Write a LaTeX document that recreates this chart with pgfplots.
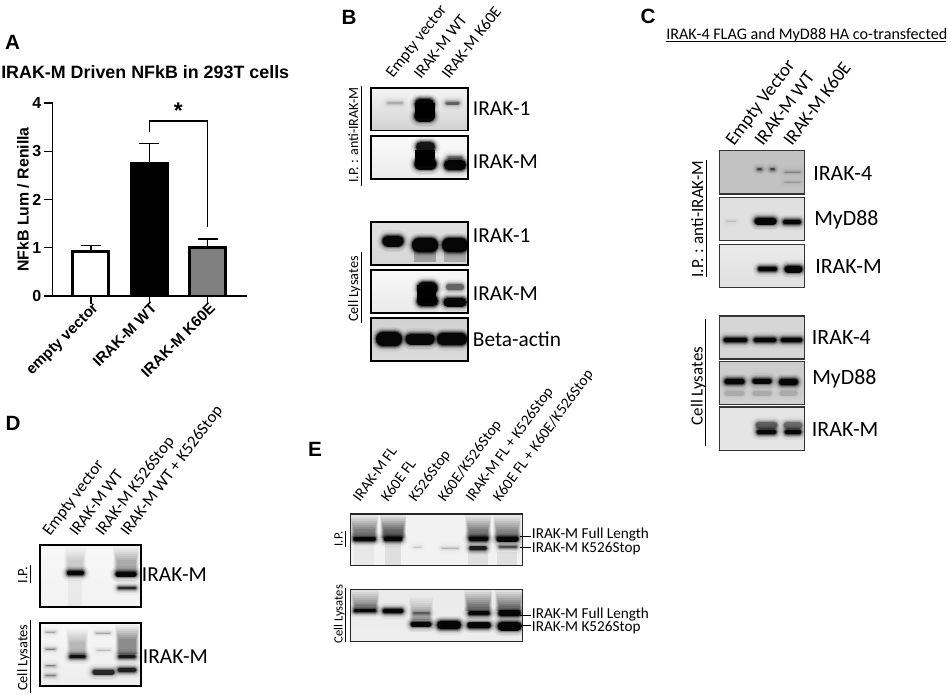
\documentclass[border=0pt]{standalone}
\usepackage{fontspec}
\setmainfont{Liberation Sans}
\newfontfamily\cb{Carlito}
\usepackage{pgfplots}
\pgfplotsset{compat=1.18}

% one band = a few stacked strokes, coordinates are picture pixels
\def\frw{1.2pt}\def\frc{black}
\pgfplotsset{
  bl/.style={black,no markers,line cap=round,forget plot},
  blotax/.style={
    scale only axis,ticks=none,y dir=reverse,axis on top,
    anchor=north west,
    axis line style={line width=\frw,\frc},
  },
}
\newcommand{\layer}[5]{%
  \pgfmathsetmacro\lw{(#4)*0.75}\pgfmathsetmacro\op{#5}%
  \edef\tmp{\noexpand\addplot[bl,opacity=\op,line width=\lw pt] coordinates {(#1,#3)(#2,#3)};}\tmp}
\newcommand{\band}[5]{%
  \layer{#1}{#2}{#3}{#4+11}{#5*0.05}%
  \layer{#1}{#2}{#3}{#4+8}{#5*0.08}%
  \layer{#1}{#2}{#3}{#4+5.5}{#5*0.14}%
  \layer{#1}{#2}{#3}{#4+3.5}{#5*0.25}%
  \layer{#1}{#2}{#3}{#4+1.5}{#5*0.45}%
  \layer{#1}{#2}{#3}{#4}{#5*0.9}}
% soft vertical smear in a lane, fades towards y1: x, y1, y2, width, strength
\newcommand{\vlayer}[5]{%
  \pgfmathsetmacro\lw{(#4)*0.75}\pgfmathsetmacro\op{#5}%
  \pgfmathsetmacro\ya{#2}%
  \edef\tmp{\noexpand\addplot[bl,line cap=butt,opacity=\op,line width=\lw pt] coordinates {(#1,\ya)(#1,#3)};}\tmp}
\newcommand{\smear}[5]{%
  \vlayer{#1}{#2}{#3}{#4+4}{#5*0.07}%
  \vlayer{#1}{#2+2}{#3}{#4+3}{#5*0.08}%
  \vlayer{#1}{#2+4}{#3}{#4+2}{#5*0.09}%
  \vlayer{#1}{#2+6}{#3}{#4+1}{#5*0.1}%
  \vlayer{#1}{#2+8}{#3}{#4}{#5*0.11}%
  \vlayer{#1}{#2+10}{#3}{#4-1}{#5*0.12}%
  \vlayer{#1}{#2+12}{#3}{#4-2}{#5*0.14}%
  \vlayer{#1}{#2+14}{#3}{#4-3}{#5*0.16}}
% x0 y0 x1 y1 top-colour bottom-colour body
\newcommand{\blot}[7]{%
  \pgfmathsetmacro\bw{(#3-#1)*0.75}\pgfmathsetmacro\bh{(#4-#2)*0.75}%
  \pgfmathsetmacro\ax{#1*0.75}\pgfmathsetmacro\ay{-#2*0.75}%
  \begin{axis}[blotax,at={(\ax pt,\ay pt)},width=\bw pt,height=\bh pt,
    xmin=#1,xmax=#3,ymin=#2,ymax=#4,
    axis background/.style={top color=#5,bottom color=#6}]
  #7
  \end{axis}}
\def\rotang{52}
\newcommand{\lab}[4]{\node[anchor=base west,inner sep=0,font=\cb\fontsize{#1}{#1}\selectfont] at (#2,#3) {#4};}
\newcommand{\rot}[4]{\node[anchor=base west,inner sep=0,rotate=\rotang,font=\cb\fontsize{#1}{#1}\selectfont] at (#2,#3) {#4};}
\newcommand{\side}[4]{\node[anchor=base,inner sep=0,rotate=90,font=\cb\fontsize{#1}{#1}\selectfont] at (#2,#3) {#4};}
\newcommand{\letter}[3]{\node[inner sep=0,font=\bfseries\fontsize{15.5}{16}\selectfont] at (#1,#2) {#3};}

\begin{document}
\begin{tikzpicture}[x=0.75pt,y=-0.75pt]
\path[use as bounding box] (0,0) rectangle (948,694);

% --- A: bar chart
\letter{12.5}{42}{A}
\node[anchor=base west,inner sep=0,font=\bfseries\fontsize{13.4}{14}\selectfont] at (1,78) {IRAK-M Driven NFkB in 293T cells};
\begin{axis}[
  at={(39.5pt,-222pt)},anchor=south west,scale only axis,
  width=145.7pt,height=144.8pt,
  xmin=-0.657,xmax=2.676,ymin=0,ymax=4,
  axis lines=left,axis line style={-,line width=1pt},
  tick style={black,line width=1pt},tick align=outside,major tick length=6.3pt,
  xtick={0,1,2},xticklabels={empty vector,IRAK-M WT,IRAK-M K60E},
  ytick={0,1,2,3,4},
  /pgf/number format/assume math mode=true,
  xticklabel style={rotate=45,anchor=north east,font=\bfseries\fontsize{11.4}{12}\selectfont,inner sep=1pt,yshift=2pt,xshift=3pt},
  yticklabel style={font=\bfseries\fontsize{12}{12}\selectfont,inner sep=2pt},
  ylabel={NFkB Lum / Renilla},
  ylabel style={font=\bfseries\fontsize{11.9}{12}\selectfont,yshift=-3pt},
  ybar,bar shift=0pt,bar width=27pt,clip=false,
]
\addplot[fill=white,draw=black,line width=2.2pt,
  error bars/.cd,y dir=plus,y explicit,error bar style={line width=0.9pt,black},
  error mark options={rotate=90,mark size=7.5pt,line width=0.9pt,black}]
  coordinates {(0,0.925) +- (0,0.12)};
\addplot[fill=black,draw=black,line width=2.2pt,
  error bars/.cd,y dir=plus,y explicit,error bar style={line width=0.9pt,black},
  error mark options={rotate=90,mark size=7.5pt,line width=0.9pt,black}]
  coordinates {(1,2.745) +- (0,0.41)};
\addplot[fill=black!50,draw=black,line width=2.2pt,
  error bars/.cd,y dir=plus,y explicit,error bar style={line width=0.9pt,black},
  error mark options={rotate=90,mark size=7.5pt,line width=0.9pt,black}]
  coordinates {(2,1.01) +- (0,0.17)};
\addplot[sharp plot,no markers,black,line width=1.1pt] coordinates {(1,3.39)(1,3.63)(2,3.63)(2,1.43)};
\node[font=\bfseries\fontsize{17}{17}\selectfont] at (axis cs:1.5,3.84) {*};
\end{axis}

% --- B
\letter{349}{17}{B}
\rot{12.2}{393}{79}{Empty vector}
\rot{12.2}{421}{80}{IRAK-M WT}
\rot{12.2}{449}{80}{IRAK-M K60E}
\blot{370.7}{87.7}{468}{130.3}{black!4}{black!18}{
  \band{388}{402}{103}{2}{0.15}
  \vlayer{424.5}{103}{118}{20}{1}
  \band{420}{429}{104}{10}{1}
  \band{420}{429}{116}{11}{1}
  \band{447}{458}{103}{3}{0.4}
}
\blot{370.7}{136}{468}{179}{black!2}{black!8}{
  \vlayer{424.5}{150}{166}{20}{1}
  \band{421}{430}{147}{10}{0.85}
  \band{420}{431}{164}{11}{1}
  \band{449}{461}{165}{10}{1}
  \band{449}{461}{157}{3}{0.3}
}
\blot{370.7}{221.7}{468}{264.7}{black!12}{black!16}{
  \band{388}{398}{241}{11}{1}
  \band{419}{431}{245}{14}{1}
  \vlayer{425}{250}{262}{22}{0.25}
  \band{449}{461}{245}{14}{1}
  \vlayer{455}{250}{262}{22}{0.2}
}
\blot{370.7}{270}{468}{312.7}{black!3}{black!8}{
  \vlayer{426.5}{285}{303}{19}{1}
  \band{424}{431}{288}{13}{1}
  \band{422}{433}{301}{10}{1}
  \band{449}{461}{287}{6}{0.4}
  \band{448}{462}{302}{9}{1}
}
\blot{370.7}{317.7}{468}{360.7}{black!18}{black!14}{
  \band{383}{395}{339}{14}{1}
  \band{411}{429}{339}{11}{1}
  \band{443}{461}{339}{12}{1}
}
\lab{16}{472.7}{115.5}{IRAK-1}
\lab{16}{472.7}{168.5}{IRAK-M}
\lab{16}{472.7}{242.5}{IRAK-1}
\lab{16}{472.7}{300.5}{IRAK-M}
\lab{16}{472.7}{346.5}{Beta-actin}
\side{10.5}{358}{135}{I.P. : anti-IRAK-M}
\side{10.7}{358}{289}{Cell Lysates}
\draw[line width=0.6pt] (361,86) -- (361,186);
\draw[line width=0.6pt] (361,252) -- (361,323);

% --- C
\def\frw{0.8pt}\def\frc{black!80}\def\rotang{53}
\letter{648}{16}{C}
\lab{12.1}{666}{39}{IRAK-4 FLAG and MyD88 HA co-transfected}
\draw[line width=0.6pt] (666,41.7) -- (946,41.7);
\rot{14}{734}{147}{Empty Vector}
\rot{14}{763}{147}{IRAK-M WT}
\rot{14}{792}{147}{IRAK-M K60E}
\blot{719.3}{150.7}{804.7}{194}{black!24}{black!24}{
  \band{758}{761}{169}{1.5}{0.5}
  \band{771}{774}{169}{1.5}{0.5}
  \band{785}{800}{172}{0.5}{0.2}
  \band{785}{800}{182}{1}{0.12}
}
\blot{719.3}{197.7}{804.7}{240.7}{black!12}{black!12}{
  \band{727}{735}{221}{1}{0.08}
  \band{758}{773}{221}{7}{1}
  \band{785}{799}{222}{4}{1}
}
\blot{719.3}{244.3}{804.7}{287.3}{black!8}{black!12}{
  \band{760}{775}{269}{4}{1}
  \band{788}{799}{269}{7}{1}
}
\lab{16.4}{813}{180}{IRAK-4}
\lab{16.4}{814}{225}{MyD88}
\lab{16.4}{815}{273}{IRAK-M}
\side{12.8}{703}{219}{I.P. : anti-IRAK-M}
\draw[line width=0.7pt] (706,160) -- (706,277);
\blot{719.3}{316}{804.7}{359}{black!16}{black!16}{
  \band{726}{745}{340}{4.5}{1}
  \band{756}{774}{340}{4.5}{1}
  \band{783}{800}{340}{4.5}{1}
}
\blot{719.3}{361.3}{804.7}{404.7}{black!20}{black!18}{
  \band{727}{742}{381.7}{5}{1}
  \band{755}{769}{381}{5}{1}
  \band{782}{795}{382}{6}{1}
  \band{727}{742}{393}{5}{0.1}
  \band{755}{769}{393}{5}{0.1}
  \band{782}{795}{393}{5}{0.1}
}
\blot{719.3}{407}{804.7}{450.3}{black!10}{black!10}{
  \band{759}{774}{425}{7}{0.4}
  \band{759}{774}{432}{4.5}{1}
  \band{787}{799}{425}{7}{0.35}
  \band{787}{799}{432}{4.5}{1}
}
\lab{16.4}{811.7}{344}{IRAK-4}
\lab{16.4}{812}{384}{MyD88}
\lab{16.4}{811.7}{436}{IRAK-M}
\side{12.7}{702.7}{386}{Cell Lysates}
\draw[line width=0.7pt] (705.7,319) -- (705.7,446);

% --- D
\def\frw{1.2pt}\def\frc{black}\def\rotang{53}
\letter{13}{423}{D}
\rot{12.5}{50}{537}{Empty vector}
\rot{12.5}{77}{537}{IRAK-M WT}
\rot{12.5}{103}{537}{IRAK-M K526Stop}
\rot{12.5}{128}{537}{IRAK-M WT + K526Stop}
\blot{40}{544.7}{140.7}{606.7}{black!3}{black!5}{
  \smear{75}{546}{572}{18}{0.2}
  \smear{126}{546}{572}{22}{0.4}
  \band{69}{82}{573}{4}{1}
  \band{118}{134}{574}{5}{1}
  \band{119}{135}{588}{2.5}{0.7}
  \vlayer{75}{580}{606}{14}{0.04}
}
\blot{40}{623}{140.7}{685.7}{black!3}{black!7}{
  \band{46}{55}{632}{0.5}{0.2}
  \band{46}{55}{649}{0.5}{0.3}
  \band{46}{55}{665.7}{0.5}{0.3}
  \band{46}{55}{675.7}{1.5}{0.3}
  \band{96}{110}{633}{0.5}{0.2}
  \band{97}{110}{650}{1}{0.12}
  \smear{77}{628}{654}{18}{0.3}
  \smear{127}{625}{654}{20}{0.6}
  \band{71}{84}{656.7}{3.5}{0.9}
  \band{95}{112}{672}{5}{0.7}
  \band{120}{134}{656.7}{3.5}{0.85}
  \band{120}{134}{670}{4.5}{0.75}
}
\lab{16}{141.7}{581}{IRAK-M}
\lab{16}{142.7}{663.5}{IRAK-M}
\side{10.8}{27.3}{575}{I.P.}
\side{10.8}{27.3}{657.7}{Cell Lysates}
\draw[line width=0.6pt] (30,565) -- (30,583);
\draw[line width=0.6pt] (30.7,620) -- (30.7,693);

% --- E
\def\frw{0.9pt}\def\frc{black!85}\def\rotang{54}
\letter{315}{449}{E}
\rot{11.5}{360}{503}{IRAK-M FL}
\rot{11.5}{388}{503}{K60E FL}
\rot{11.5}{415.7}{503}{K526Stop}
\rot{11.5}{445}{503}{K60E/K526Stop}
\rot{11.5}{472.7}{503}{IRAK-M FL + K526Stop}
\rot{11.5}{500}{503}{K60E FL + K60E/K526Stop}
\blot{350.7}{514}{522.7}{565.7}{black!5}{black!5}{
  \smear{364}{515}{538}{24}{0.7}
  \smear{393}{515}{538}{22}{0.9}
  \smear{478}{515}{538}{22}{0.7}
  \smear{507}{515}{538}{24}{0.6}
  \vlayer{393}{542}{565}{16}{0.08}
  \vlayer{364}{542}{565}{20}{0.04}
  \vlayer{478}{552}{565}{20}{0.07}
  \vlayer{507}{552}{565}{20}{0.07}
  \band{355}{374}{539}{3.5}{1}
  \band{386}{400}{539}{4.5}{1}
  \band{471}{486}{539}{4.5}{1}
  \band{471}{485}{548}{3.5}{0.8}
  \band{499}{516}{539}{5}{1}
  \band{500}{516}{547}{2.5}{0.5}
  \band{414}{421}{547}{0.5}{0.1}
  \band{442}{458}{548}{0.5}{0.15}
}
\blot{350.7}{589.3}{522.7}{641.3}{black!8}{black!7}{
  \smear{365}{590}{609}{24}{0.6}
  \smear{478}{590}{611}{24}{0.7}
  \smear{509}{590}{611}{24}{0.7}
  \smear{421}{597}{620}{20}{0.35}
  \band{355}{375}{610.7}{2.5}{1}
  \band{385}{401}{611}{4.5}{1}
  \band{414}{429}{613}{1.5}{0.3}
  \band{413}{429}{624.3}{4.5}{1}
  \band{441}{457}{625}{8}{1}
  \band{470}{488}{613}{3.5}{1}
  \band{470}{488}{625}{5.5}{1}
  \band{501}{518}{613}{5.5}{1}
  \band{502}{517}{626}{9}{1}
}
\lab{11.4}{531.7}{538.5}{IRAK-M Full Length}
\lab{11.4}{531.7}{552}{IRAK-M K526Stop}
\lab{11.4}{531.7}{618.5}{IRAK-M Full Length}
\lab{11.4}{531.7}{631}{IRAK-M K526Stop}
\draw[line width=0.6pt] (520,536.7) -- (531,536.7);
\draw[line width=0.6pt] (520,547.7) -- (531,547.7);
\draw[line width=0.6pt] (520,615) -- (531,615);
\draw[line width=0.6pt] (520,625.7) -- (531,625.7);
\side{9.5}{342.7}{539}{I.P.}
\side{9.5}{342.7}{614}{Cell Lysates}
\draw[line width=0.6pt] (345.3,530.7) -- (345.3,547);
\draw[line width=0.6pt] (345.3,588) -- (345.3,642);
\end{tikzpicture}
\end{document}
